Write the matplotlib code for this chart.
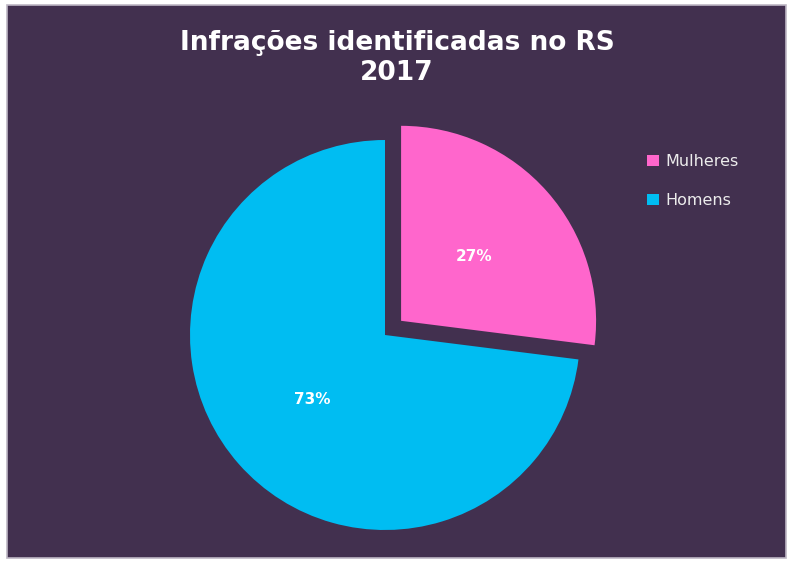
import matplotlib.pyplot as plt
from matplotlib.patches import Rectangle, Patch

plt.rcParams['font.family'] = ['DejaVu Sans']

labels = ['Mulheres', 'Homens']
valores = [27, 73]
cores = ['#ff66cc', '#00bdf2']
fundo = '#42304f'

fig = plt.figure(figsize=(8, 5.73), dpi=100)
fig.patch.set_facecolor('white')

# painel escuro com borda clara
fig.patches.append(Rectangle((7 / 800, 15 / 573), 779 / 800, 553 / 573,
                             transform=fig.transFigure, facecolor=fundo,
                             edgecolor='#bdb6c4', linewidth=1.2, zorder=-5))

# eixo do gráfico: 1 unidade = 195 px, centro em (385, 335)
r = 195
lim = 1.15
w = 2 * lim * r
ax = fig.add_axes([(385 - w / 2) / 800, (573 - 335 - w / 2) / 573, w / 800, w / 573])

wedges, texts, autotexts = ax.pie(valores, colors=cores, explode=[0.11, 0],
                                  startangle=90, counterclock=False,
                                  autopct='%1.0f%%', pctdistance=0.5,
                                  wedgeprops={'linewidth': 0})
ax.set_xlim(-lim, lim)
ax.set_ylim(-lim, lim)
ax.axis('off')
for t in autotexts:
    t.set_color('white')
    t.set_fontsize(11)
    t.set_fontweight('bold')

fig.text(397 / 800, 1 - 58 / 573, 'Infrações identificadas no RS\n2017',
         ha='center', va='center', color='white', fontsize=19,
         fontweight='bold', linespacing=1.15)

handles = [Patch(facecolor=c, edgecolor='none') for c in cores]
leg = fig.legend(handles, labels, loc='upper left',
                 bbox_to_anchor=(633 / 800, 1 - 140 / 573), frameon=False,
                 fontsize=11.5, labelcolor='#ececec', handlelength=0.7,
                 handleheight=0.7, handletextpad=0.4, labelspacing=1.5)

fig.savefig('out.png', dpi=100)
